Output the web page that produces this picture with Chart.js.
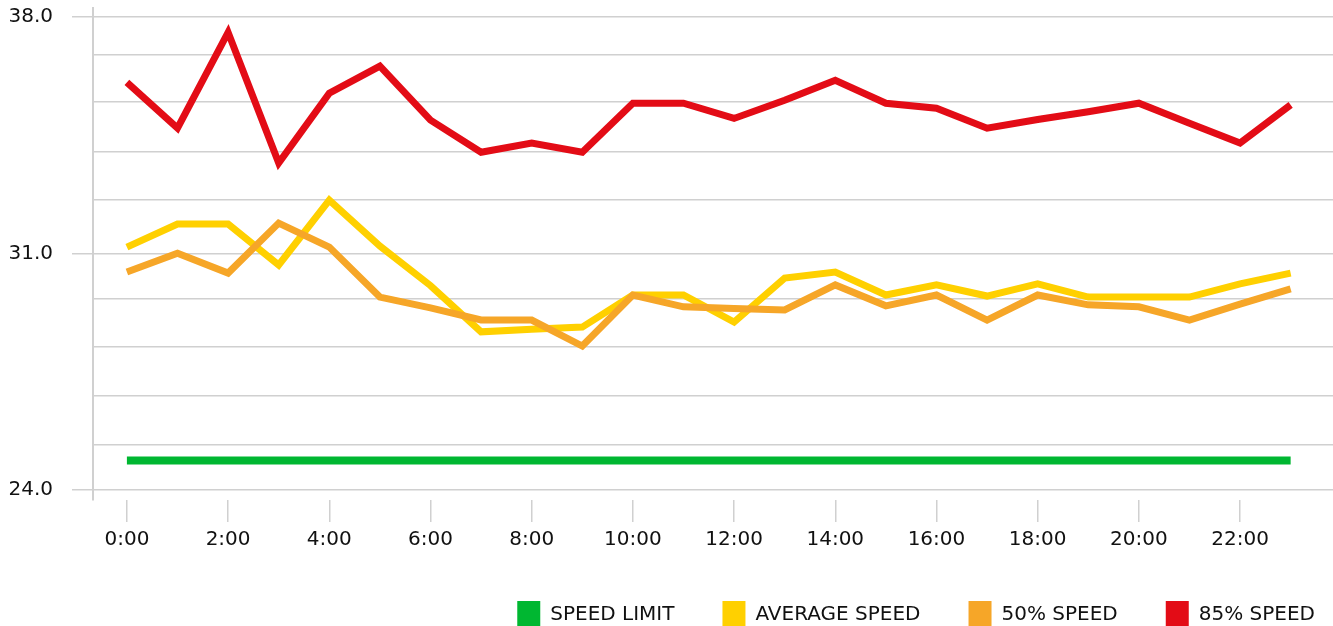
<!DOCTYPE html>
<html>
<head>
<meta charset="utf-8">
<script src="https://cdn.jsdelivr.net/npm/chart.js@4/dist/chart.umd.min.js"></script>
<style>
  html, body { margin: 0; padding: 0; background: #fff; overflow: hidden; width: 1333px; height: 626px; }
  #wrap { position: absolute; left: 0; top: 0; width: 1363px; height: 639px; }
</style>
</head>
<body>
<div id="wrap"><canvas id="c"></canvas></div>
<script>
// ---- data ----
const hours = [0,1,2,3,4,5,6,7,8,9,10,11,12,13,14,15,16,17,18,19,20,21,22,23];
const tickHours = [0,2,4,6,8,10,12,14,16,18,20,22];
const tickLabels = ['0:00','2:00','4:00','6:00','8:00','10:00','12:00','14:00','16:00','18:00','20:00','22:00'];
const gridValues = [24, 25.35, 26.8, 28.25, 29.65, 31, 32.6, 34.0, 35.5, 36.9, 38];
const labeledValues = [24, 31, 38];

const speedLimit = [24.87,24.87,24.87,24.87,24.87,24.87,24.87,24.87,24.87,24.87,24.87,24.87,24.87,24.87,24.87,24.87,24.87,24.87,24.87,24.87,24.87,24.87,24.87,24.87];
const averageSpeed = [31.19,31.87,31.87,30.66,32.58,31.22,30.05,28.68,28.76,28.82,29.77,29.77,28.97,30.27,30.45,29.77,30.07,29.74,30.10,29.71,29.71,29.71,30.10,30.42];
const speed50 = [30.45,31.01,30.42,31.90,31.19,29.71,29.39,29.03,29.03,28.26,29.77,29.42,29.37,29.33,30.07,29.45,29.77,29.03,29.77,29.48,29.42,29.03,29.50,29.95];
const speed85 = [36.07,34.71,37.55,33.68,35.75,36.55,34.95,34.00,34.27,34.00,35.45,35.45,35.00,35.54,36.13,35.45,35.30,34.71,34.97,35.20,35.45,34.86,34.27,35.40];

const seriesNames = ['SPEED LIMIT', 'AVERAGE SPEED', '50% SPEED', '85% SPEED'];

// ---- styles ----
const FONT = 'DejaVu Sans';
const TEXT = '#111111';
const GRID = '#d0d0d0';
const colors = ['#00b731', '#ffd000', '#f6a628', '#e30c16'];
const widths = [8, 7, 7, 7];
const orders = [0, 2, 1, 3];

const series = [speedLimit, averageSpeed, speed50, speed85];
const datasets = series.map((arr, k) => ({
  label: seriesNames[k],
  data: hours.map((h, i) => ({ x: h, y: arr[i] })),
  borderColor: colors[k],
  backgroundColor: colors[k],
  borderWidth: widths[k],
  pointRadius: 0,
  pointHoverRadius: 0,
  tension: 0,
  borderJoinStyle: 'miter',
  borderCapStyle: 'butt',
  fill: false,
  order: orders[k]
}));

new Chart(document.getElementById('c'), {
  type: 'line',
  data: { datasets },
  options: {
    responsive: true,
    maintainAspectRatio: false,
    animation: false,
    devicePixelRatio: 1,
    layout: { padding: { top: 8, left: 0, right: 0, bottom: 0 } },
    plugins: {
      tooltip: { enabled: false },
      legend: {
        position: 'bottom',
        align: 'end',
        onClick: null,
        labels: {
          boxWidth: 23,
          boxHeight: 28,
          padding: 48,
          color: TEXT,
          font: { family: FONT, size: 20 },
          sort: (a, b) => a.datasetIndex - b.datasetIndex,
          generateLabels: (chart) => Chart.defaults.plugins.legend.labels.generateLabels(chart)
            .map(l => Object.assign(l, { lineWidth: 0, strokeStyle: 'rgba(0,0,0,0)' }))
        }
      }
    },
    scales: {
      x: {
        type: 'linear',
        bounds: 'data',
        min: -0.67,
        max: 24.43,
        afterBuildTicks: s => { s.ticks = tickHours.map(v => ({ value: v })); },
        afterFit: s => { s.height = 53; s.paddingLeft = 0; s.paddingRight = 0; },
        ticks: {
          autoSkip: false,
          maxRotation: 0,
          padding: 6,
          color: TEXT,
          font: { family: FONT, size: 20 },
          callback: (v, i) => tickLabels[i]
        },
        grid: { drawOnChartArea: false, drawTicks: true, tickLength: 22, color: GRID, lineWidth: 1.5 },
        border: { display: false }
      },
      y: {
        type: 'linear',
        bounds: 'data',
        min: 23.7,
        max: 38.27,
        afterBuildTicks: s => { s.ticks = gridValues.map(v => ({ value: v })); },
        afterFit: s => { s.width = 93; s.paddingTop = 0; s.paddingBottom = 0; },
        ticks: {
          autoSkip: false,
          padding: 19,
          color: TEXT,
          font: { family: FONT, size: 20 },
          callback: v => labeledValues.includes(v) ? v.toFixed(1) : ''
        },
        grid: {
          color: GRID,
          lineWidth: 1.5,
          tickLength: 21,
          tickColor: ctx => (ctx.tick && labeledValues.includes(ctx.tick.value)) ? GRID : 'rgba(0,0,0,0)'
        },
        border: { display: true, color: GRID, width: 2 }
      }
    }
  }
});
</script>
</body>
</html>
